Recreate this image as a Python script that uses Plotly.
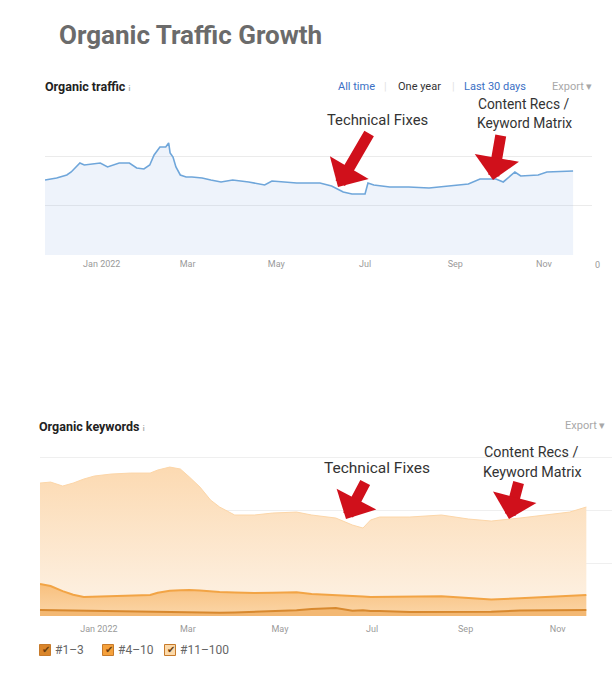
import plotly.graph_objects as go

W, H = 612, 687
def px(x):
    return x / W
def py(y):
    return 1 - y / H

# ---------------- data ----------------
traffic_dates = ["2021-11-23","2021-12-01","2021-12-08","2021-12-11","2021-12-17","2021-12-20","2021-12-31",
    "2022-01-05","2022-01-13","2022-01-20","2022-01-25","2022-01-30","2022-02-03","2022-02-06","2022-02-10",
    "2022-02-14","2022-02-16","2022-02-17","2022-02-19","2022-02-21","2022-02-24","2022-02-28","2022-03-04",
    "2022-03-11","2022-03-17","2022-03-24","2022-04-01","2022-04-12","2022-04-23","2022-04-28","2022-05-15",
    "2022-05-31","2022-06-08","2022-06-16","2022-06-22","2022-07-01","2022-07-03","2022-07-07","2022-07-18",
    "2022-07-31","2022-08-14","2022-08-27","2022-09-10","2022-09-18","2022-09-29","2022-10-04","2022-10-12",
    "2022-10-16","2022-10-28","2022-11-03","2022-11-21"]
traffic = [1531,1571,1633,1694,1878,1837,1878,1796,1878,1878,1776,1755,1837,2041,2204,2204,2286,2082,2000,1796,
    1633,1592,1592,1571,1531,1490,1531,1490,1429,1510,1469,1469,1408,1286,1245,1245,1469,1429,1388,1388,
    1367,1408,1449,1551,1551,1490,1694,1612,1633,1694,1714]

kw_dates = ["2021-11-23","2021-11-30","2021-12-08","2021-12-15","2021-12-22","2021-12-29","2022-01-09",
    "2022-01-22","2022-02-04","2022-02-09","2022-02-17","2022-02-24","2022-03-02","2022-03-09","2022-03-16",
    "2022-03-22","2022-04-01","2022-04-14","2022-04-26","2022-05-12","2022-05-22","2022-06-07","2022-06-18",
    "2022-06-25","2022-06-30","2022-07-06","2022-07-26","2022-08-16","2022-09-03","2022-09-18","2022-10-07",
    "2022-10-25","2022-11-09","2022-11-20"]
kw_top3 = [113,110,105,100,95,90,80,75,70,68,65,62,58,57,60,62,68,80,94,110,132,150,100,110,94,94,75,75,75,80,105,113,113,113]
kw_4_10 = [491,456,365,300,263,275,295,305,326,372,410,423,432,423,400,393,377,354,346,340,283,250,277,260,264,266,283,297,265,230,230,242,257,283]
kw_11_100 = [1905,1962,1983,2109,2227,2277,2304,2318,2302,2315,2336,2289,2133,1954,1729,1602,1461,1472,1503,1512,1491,1449,1340,1290,1453,1508,1510,1534,1490,1482,1514,1551,1592,1661]

tick_dates = ["2022-01-01","2022-03-01","2022-05-01","2022-07-01","2022-09-01","2022-11-01"]
tick_labels = ["Jan 2022","Mar","May","Jul","Sep","Nov"]
legend_names = ["#1–3", "#4–10", "#11–100"]
legend_colors = ["#d9852a", "#f5a13c", "#fcd9a9"]

FONT = "Roboto"
fig = go.Figure()

# ---------------- top chart ----------------
fig.add_trace(go.Scatter(x=traffic_dates, y=traffic, mode="lines", fill="tozeroy",
    line=dict(color="#6fa6da", width=1.6), fillcolor="rgba(160,190,235,0.18)",
    xaxis="x", yaxis="y", showlegend=False, hoverinfo="skip"))

# ---------------- bottom chart ----------------
fig.add_trace(go.Scatter(x=kw_dates, y=kw_top3, stackgroup="kw", mode="lines", name=legend_names[0],
    line=dict(color="#d8892f", width=2), fillcolor="#f3b873",
    xaxis="x2", yaxis="y2", showlegend=False, hoverinfo="skip"))
fig.add_trace(go.Scatter(x=kw_dates, y=kw_4_10, stackgroup="kw", mode="lines", name=legend_names[1],
    line=dict(color="#f2a445", width=2),
    fillgradient=dict(type="vertical", start=0, stop=600,
                      colorscale=[[0, "#fbd6a8"], [1, "#f8c07e"]]),
    xaxis="x2", yaxis="y2", showlegend=False, hoverinfo="skip"))
fig.add_trace(go.Scatter(x=kw_dates, y=kw_11_100, stackgroup="kw", mode="lines", name=legend_names[2],
    line=dict(color="#fcd6a8", width=1),
    fillgradient=dict(type="vertical", start=300, stop=2800,
                      colorscale=[[0, "#fdf0e1"], [1, "#fcdab2"]]),
    xaxis="x2", yaxis="y2", showlegend=False, hoverinfo="skip"))

axis_common = dict(showgrid=False, zeroline=False, showline=False, ticks="",
                   tickfont=dict(family=FONT, size=9, color="#9a9a9a"),
                   tickvals=tick_dates, ticktext=tick_labels, type="date", fixedrange=True)

fig.update_layout(
    width=W, height=H, margin=dict(l=0, r=0, t=0, b=0),
    paper_bgcolor="white", plot_bgcolor="white",
    font=dict(family=FONT, color="#333"),
    showlegend=False,
    modebar=dict(bgcolor="rgba(0,0,0,0)", color="rgba(0,0,0,0)", activecolor="rgba(0,0,0,0)"),
    xaxis=dict(domain=[px(45), px(592)], range=["2021-11-23", "2022-12-04"], anchor="y",
               ticklabelstandoff=2, **axis_common),
    yaxis=dict(domain=[py(255), py(107)], range=[0, 3020], tickvals=[0, 1000, 2000, 3000],
               ticktext=["0", "", "", ""], side="right", showgrid=True, gridcolor="#ebebeb",
               gridwidth=1, zeroline=False, showline=False, ticks="", anchor="x",
               ticklabelshift=10, ticklabelstandoff=2, automargin=False,
               tickfont=dict(family=FONT, size=9, color="#9a9a9a"), fixedrange=True),
    xaxis2=dict(domain=[px(40), 1.0], range=["2021-11-23", "2022-12-07"], anchor="y2",
                ticklabelstandoff=6, **axis_common),
    yaxis2=dict(domain=[py(616), py(456)], range=[0, 3020], dtick=1000, showticklabels=False,
                showgrid=True, gridcolor="#efefef", gridwidth=1, zeroline=False, showline=False,
                ticks="", anchor="x2", fixedrange=True),
)

RED = "#d0101b"
ann = []
shapes = []
def text(x, y, t, size=11, color="#333", xanchor="center", bold=False):
    if bold:
        t = "<b>" + t + "</b>"
    ann.append(dict(x=px(x), y=py(y), xref="paper", yref="paper", text=t, showarrow=False,
                    xanchor=xanchor, yanchor="middle", font=dict(family=FONT, size=size, color=color)))

def arrow(tail, tip):
    ann.append(dict(x=px(tip[0]), y=py(tip[1]), xref="paper", yref="paper", text="",
                    showarrow=True, ax=tail[0] - tip[0], ay=tail[1] - tip[1],
                    arrowhead=1, arrowwidth=11, arrowsize=0.68, arrowcolor=RED, standoff=0))

# title
text(57, 35, "Organic Traffic Growth", size=26, color="#6b6b6b", xanchor="left", bold=True)

# top header
text(43, 87, "Organic traffic <span style='font-size:7px;color:#aaa'>i</span>", size=12.5, color="#222", xanchor="left", bold=True)
text(356, 87, "All time", size=11, color="#3a6fc4")
text(385, 87, "|", size=11, color="#e2e2e2")
text(419, 87, "One year", size=11, color="#333")
text(453, 87, "|", size=11, color="#e2e2e2")
text(495, 87, "Last 30 days", size=11, color="#3a6fc4")
text(572, 87, "Export ▾", size=11, color="#a8a8a8")

# bottom header
text(37, 426, "Organic keywords <span style='font-size:7px;color:#aaa'>i</span>", size=12.5, color="#222", xanchor="left", bold=True)
text(585, 425, "Export ▾", size=11, color="#a8a8a8")

# callouts top
text(377, 120, "Technical Fixes", size=14.8, color="#333")
text(523, 104, "Content Recs /", size=13.8, color="#333")
text(524, 123, "Keyword Matrix", size=13.8, color="#333")
arrow((370, 132), (338, 187))
arrow((501, 134), (493, 180))

# callouts bottom
text(377, 468, "Technical Fixes", size=15.5, color="#333")
text(531, 452, "Content Recs /", size=14.3, color="#333")
text(532, 472, "Keyword Matrix", size=14.3, color="#333")
arrow((366, 481), (346, 519))
arrow((519, 481), (509, 519))

# legend (checkbox style)
legend_x = [45, 108, 170]
for name, col, lx in zip(legend_names, legend_colors, legend_x):
    shapes.append(dict(type="rect", xref="paper", yref="paper",
                       x0=px(lx - 5.5), x1=px(lx + 5.5), y0=py(655.5), y1=py(644.5),
                       fillcolor=col, line=dict(color="#c77a2a", width=1)))
    ann.append(dict(x=px(lx + 0.5), y=py(649.5), xref="paper", yref="paper", showarrow=False,
                    text="✔", font=dict(family="DejaVu Sans", size=10, color="#6b3d0e"),
                    xanchor="center", yanchor="middle"))
    ann.append(dict(x=px(lx + 8), y=py(650), xref="paper", yref="paper", showarrow=False,
                    text=name, font=dict(family=FONT, size=12, color="#666"),
                    xanchor="left", yanchor="middle"))

fig.update_layout(annotations=ann, shapes=shapes)
fig.write_html("out.html", config={"displayModeBar": False},
               post_script="document.body.style.margin='0px';document.body.style.overflow='hidden';")
